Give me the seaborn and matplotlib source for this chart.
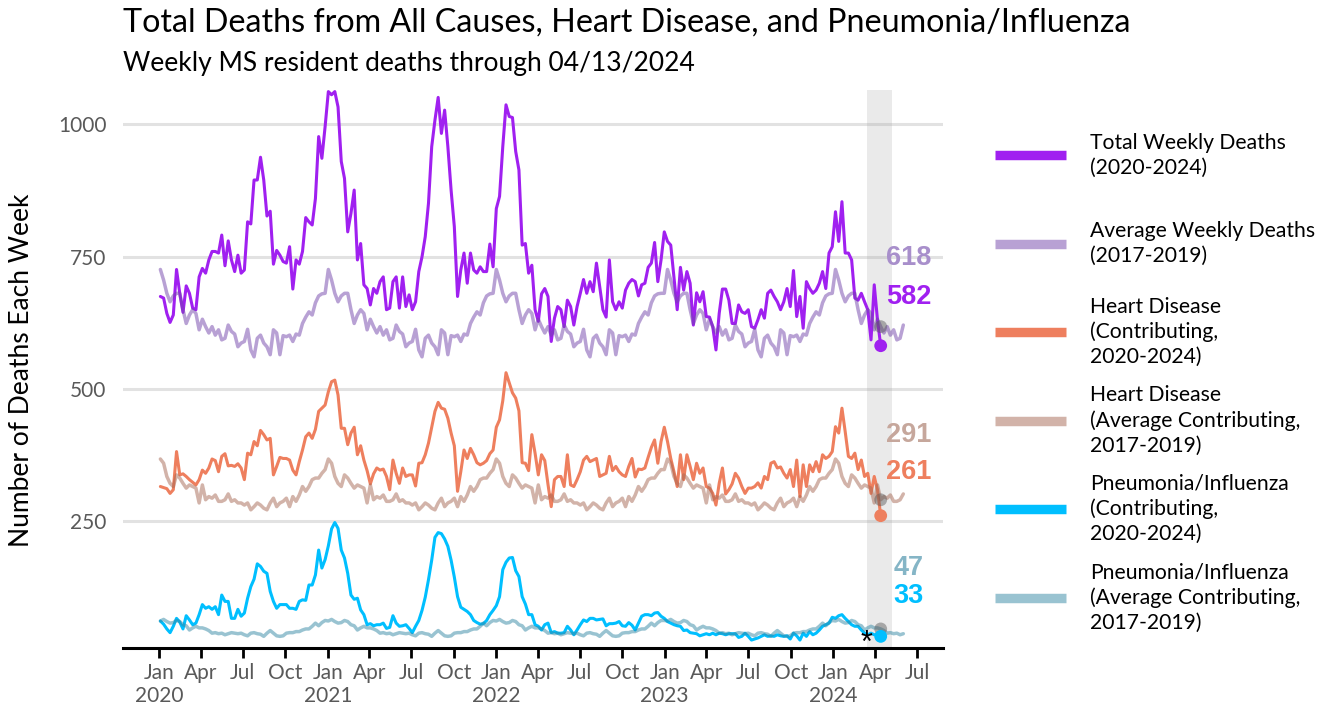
import numpy as np
import pandas as pd
import matplotlib
matplotlib.use("Agg")
import matplotlib.pyplot as plt
import matplotlib.dates as mdates
from matplotlib.lines import Line2D
from matplotlib.ticker import FuncFormatter
import seaborn as sns

# ---------------- data (weekly, week ending 2020-01-04 ... 2024-04-13) ----------------
total_deaths = [
    675, 672, 643, 626, 640, 726, 681, 645, 695, 681,
    653, 650, 712, 728, 719, 744, 760, 760, 757, 791,
    733, 780, 744, 722, 753, 719, 725, 816, 812, 895,
    895, 938, 895, 827, 836, 736, 762, 753, 741, 738,
    769, 689, 744, 736, 760, 824, 816, 810, 860, 977,
    936, 996, 1062, 1056, 1062, 1033, 930, 898, 797, 832,
    876, 744, 775, 697, 690, 659, 690, 681, 703, 712,
    650, 653, 703, 712, 653, 712, 656, 678, 650, 665,
    722, 750, 788, 851, 958, 1008, 1051, 983, 1027, 958,
    876, 807, 675, 725, 757, 700, 757, 725, 719, 731,
    722, 722, 774, 731, 841, 864, 958, 1037, 1015, 1013,
    949, 914, 772, 775, 719, 734, 650, 628, 680, 690,
    675, 590, 634, 656, 650, 618, 668, 656, 621, 656,
    681, 707, 681, 703, 684, 738, 694, 650, 636, 744,
    665, 650, 665, 653, 687, 700, 707, 703, 676, 697,
    700, 730, 738, 777, 703, 744, 797, 779, 772, 712,
    650, 730, 687, 722, 700, 621, 682, 665, 684, 637,
    636, 618, 574, 643, 689, 689, 668, 624, 624, 659,
    646, 643, 650, 618, 615, 631, 650, 634, 681, 687,
    675, 665, 650, 665, 690, 656, 724, 637, 675, 615,
    703, 690, 681, 687, 700, 722, 690, 757, 769, 835,
    779, 854, 757, 757, 744, 672, 668, 681, 665, 650,
    593, 697, 631, 582,
]
heart_deaths = [
    316, 314, 312, 303, 310, 382, 338, 340, 335, 329,
    324, 319, 329, 347, 341, 351, 368, 365, 344, 373,
    378, 355, 356, 354, 359, 351, 329, 379, 376, 401,
    393, 422, 414, 404, 407, 338, 354, 371, 369, 369,
    366, 347, 338, 363, 385, 410, 417, 407, 424, 458,
    464, 470, 495, 514, 517, 489, 426, 426, 395, 417,
    428, 376, 393, 366, 346, 321, 340, 351, 347, 349,
    335, 310, 366, 341, 322, 351, 335, 338, 338, 317,
    360, 361, 376, 398, 428, 458, 475, 464, 462, 445,
    417, 393, 307, 344, 385, 369, 388, 376, 361, 357,
    360, 365, 378, 385, 428, 442, 478, 531, 512, 493,
    483, 459, 361, 360, 346, 414, 379, 338, 376, 365,
    320, 278, 329, 335, 335, 316, 376, 319, 316, 329,
    344, 366, 373, 363, 366, 369, 335, 338, 341, 373,
    346, 354, 344, 338, 335, 354, 369, 334, 349, 348,
    351, 371, 390, 404, 360, 401, 428, 401, 369, 344,
    316, 376, 329, 376, 354, 329, 360, 341, 351, 316,
    313, 303, 281, 322, 351, 302, 310, 321, 341, 332,
    316, 303, 313, 313, 316, 323, 313, 335, 329, 360,
    363, 351, 353, 341, 332, 348, 316, 366, 297, 357,
    316, 357, 344, 363, 344, 376, 369, 373, 382, 429,
    417, 464, 420, 373, 369, 379, 348, 366, 335, 341,
    303, 335, 310, 261,
]
pneu_deaths = [
    62, 56, 47, 40, 52, 67, 60, 47, 72, 64,
    55, 58, 74, 93, 86, 89, 84, 89, 74, 111,
    99, 99, 67, 67, 84, 71, 77, 105, 127, 141,
    170, 165, 156, 152, 118, 99, 86, 93, 93, 93,
    86, 86, 84, 99, 102, 101, 130, 130, 149, 196,
    162, 178, 204, 236, 248, 237, 196, 181, 152, 111,
    103, 105, 83, 74, 55, 57, 53, 55, 55, 58,
    48, 50, 72, 58, 52, 53, 55, 48, 40, 52,
    63, 82, 107, 140, 177, 220, 229, 227, 217, 203,
    177, 145, 108, 88, 84, 80, 74, 63, 59, 56,
    57, 63, 74, 82, 91, 108, 159, 173, 181, 182,
    157, 146, 108, 94, 74, 74, 55, 52, 45, 55,
    58, 40, 42, 39, 39, 40, 52, 45, 36, 45,
    55, 64, 61, 67, 67, 64, 65, 66, 53, 57,
    57, 58, 61, 53, 52, 59, 54, 45, 58, 71,
    74, 74, 72, 77, 78, 71, 67, 61, 58, 55,
    53, 52, 44, 45, 40, 39, 38, 34, 36, 38,
    36, 39, 36, 39, 38, 36, 38, 38, 38, 31,
    33, 39, 33, 26, 28, 30, 33, 36, 33, 34,
    33, 36, 34, 33, 34, 28, 39, 34, 26, 39,
    33, 42, 36, 39, 45, 52, 55, 58, 69, 67,
    72, 74, 67, 61, 55, 52, 52, 45, 39, 36,
    39, 36, 36, 33,
]
# 2017-2019 averages by week of year (index 0 = first week of the year)
avg_total_by_week = [
    726, 706, 681, 665, 676, 681, 681, 650, 624, 640,
    650, 643, 612, 632, 618, 606, 618, 602, 612, 593,
    596, 621, 609, 604, 580, 587, 590, 613, 574, 561,
    596, 602, 587, 580, 565, 612, 606, 565, 601, 599,
    602, 590, 604, 602, 624, 636, 646, 640, 663, 676,
    680, 681,
]
avg_heart_by_week = [
    368, 360, 335, 322, 316, 338, 332, 322, 313, 319,
    316, 313, 285, 319, 291, 297, 294, 300, 288, 288,
    291, 302, 288, 291, 285, 285, 281, 285, 272, 278,
    285, 281, 275, 272, 285, 294, 278, 285, 288, 294,
    278, 297, 288, 300, 316, 307, 316, 329, 332, 332,
    341, 348,
]
avg_pneu_by_week = [
    62, 65, 61, 58, 59, 63, 61, 55, 53, 45,
    49, 52, 49, 49, 47, 44, 39, 40, 38, 39,
    36, 38, 40, 39, 38, 39, 36, 34, 39, 40,
    38, 37, 33, 39, 44, 39, 34, 33, 34, 39,
    40, 40, 42, 42, 45, 47, 47, 52, 58, 53,
    59, 63,
]
legend_labels = [
    "Total Weekly Deaths\n(2020-2024)",
    "Average Weekly Deaths\n(2017-2019)",
    "Heart Disease\n(Contributing,\n2020-2024)",
    "Heart Disease\n(Average Contributing,\n2017-2019)",
    "Pneumonia/Influenza\n(Contributing,\n2020-2024)",
    "Pneumonia/Influenza\n(Average Contributing,\n2017-2019)",
]
y_ticks = [250, 500, 750, 1000]
title = "Total Deaths from All Causes, Heart Disease, and Pneumonia/Influenza"
subtitle = "Weekly MS resident deaths through 04/13/2024"
ylabel = "Number of Deaths Each Week"

# ---------------- derived tables ----------------
dates = pd.date_range("2020-01-04", periods=len(total_deaths), freq="7D")
avg_dates = pd.date_range("2020-01-04", periods=len(total_deaths) + 7, freq="7D")
woy = np.minimum((avg_dates.dayofyear.values - 1) // 7, 51)
df_main = pd.DataFrame({"date": dates, "total": total_deaths,
                        "heart": heart_deaths, "pneu": pneu_deaths})
df_avg = pd.DataFrame({"date": avg_dates,
                       "total": np.array(avg_total_by_week)[woy],
                       "heart": np.array(avg_heart_by_week)[woy],
                       "pneu": np.array(avg_pneu_by_week)[woy]})
last = dates[-1]
last_avg = df_avg.loc[df_avg["date"] == last].iloc[0]

# ---------------- style ----------------
sns.set_theme(style="white")
plt.rcParams["font.family"] = ["Lato", "DejaVu Sans"]

C_TOTAL, C_HEART, C_PNEU = "#a020f0", "#ee7f5e", "#00bfff"
C_AT, C_AH, C_AP = "#7345ab", "#a76955", "#3589a5"
AVG_ALPHA = 0.5
TXT_AT, TXT_AH, TXT_AP = "#a88fcb", "#c6a79c", "#85b5c6"

W, H = 1325, 708
fig = plt.figure(figsize=(W / 100, H / 100), dpi=100)
ax = fig.add_axes([123 / W, 1 - 648 / H, (943 - 123) / W, (648 - 90) / H])

ax.axvspan(last - pd.Timedelta(days=30), last + pd.Timedelta(days=25),
           color="#999999", alpha=0.2, lw=0, zorder=1)

main_lw, avg_lw = 2.2, 2.5
for col, c in [("total", C_TOTAL), ("heart", C_HEART), ("pneu", C_PNEU)]:
    sns.lineplot(data=df_main, x="date", y=col, color=c, lw=main_lw, ax=ax,
                 legend=False, zorder=3)
for col, c in [("total", C_AT), ("heart", C_AH), ("pneu", C_AP)]:
    sns.lineplot(data=df_avg, x="date", y=col, color=c, lw=avg_lw, alpha=AVG_ALPHA,
                 ax=ax, legend=False, zorder=4)

# end-point dots
for col, c in [("total", C_TOTAL), ("heart", C_HEART), ("pneu", C_PNEU)]:
    sns.scatterplot(x=[last], y=[df_main[col].iloc[-1]], color=c, s=85,
                    edgecolor="none", ax=ax, zorder=6, legend=False)
for col in ["total", "heart", "pneu"]:
    sns.scatterplot(x=[last], y=[last_avg[col]], color="#555555", alpha=0.45, s=85,
                    edgecolor="none", ax=ax, zorder=5, legend=False)

# value labels
lab_font = dict(fontsize=19.5, fontweight="bold", family=["Liberation Sans", "DejaVu Sans"],
                ha="center", va="center", textcoords="offset pixels", annotation_clip=False)
for val, dy, c in [(int(last_avg["total"]), 69, TXT_AT), (total_deaths[-1], 49, C_TOTAL),
                   (int(last_avg["heart"]), 65, TXT_AH), (heart_deaths[-1], 44, C_HEART),
                   (int(last_avg["pneu"]), 61, TXT_AP), (pneu_deaths[-1], 40, C_PNEU)]:
    ax.annotate(f"{val}", xy=(last, val), xytext=(28, dy), color=c, **lab_font)

ax.text(last - pd.Timedelta(days=31), 18, "*", ha="center", va="center", fontsize=22,
        family=["Liberation Sans", "DejaVu Sans"], color="black", zorder=7)

# axes
ax.set_xlim(pd.Timestamp("2019-10-15"), pd.Timestamp("2024-08-26"))
ax.set_ylim(11, 1065)
ax.set_yticks(y_ticks)
ax.xaxis.set_major_locator(mdates.MonthLocator(bymonth=[1, 4, 7, 10]))
ax.xaxis.set_major_formatter(FuncFormatter(
    lambda v, p: (lambda d: d.strftime("%b\n%Y") if d.month == 1 else d.strftime("%b"))(mdates.num2date(v))))
ax.set_xlabel("")
ax.set_ylabel("")
ax.grid(axis="y", color="#e2e2e2", lw=2.2)
ax.grid(axis="x", visible=False)
ax.set_axisbelow(True)
for s in ["left", "right", "top"]:
    ax.spines[s].set_visible(False)
ax.spines["bottom"].set_color("black")
ax.spines["bottom"].set_linewidth(2.2)
ax.tick_params(axis="x", direction="out", length=7, width=2, color="black",
               labelcolor="#595959", labelsize=15, pad=4, bottom=True)
ax.tick_params(axis="y", length=0, labelcolor="#595959", labelsize=15, pad=12)

# titles
fig.text(123 / W, 1 - 31.5 / H, title, fontsize=23.2, ha="left", va="baseline", color="black")
fig.text(123 / W, 1 - 71.5 / H, subtitle, fontsize=19, ha="left", va="baseline", color="black")
fig.text(22 / W, 1 - 370 / H, ylabel, fontsize=19, rotation=90, ha="center", va="center",
         color="black")

# legend (manual, evenly spaced entries)
leg_colors = [(C_TOTAL, 1), (C_AT, AVG_ALPHA), (C_HEART, 1), (C_AH, AVG_ALPHA),
              (C_PNEU, 1), (C_AP, AVG_ALPHA)]
leg_y = [155, 243.5, 332, 420.5, 509, 597.5]
for lab, (c, a), yy in zip(legend_labels, leg_colors, leg_y):
    fig.add_artist(Line2D([995 / W, 1066 / W], [1 - yy / H] * 2, color=c, alpha=a,
                          lw=6.8, solid_capstyle="butt", transform=fig.transFigure))
    fig.text(1090 / W, 1 - yy / H, lab, fontsize=15.2, ha="left", va="center",
             linespacing=1.3, color="black")

fig.savefig("out.png", dpi=100)
